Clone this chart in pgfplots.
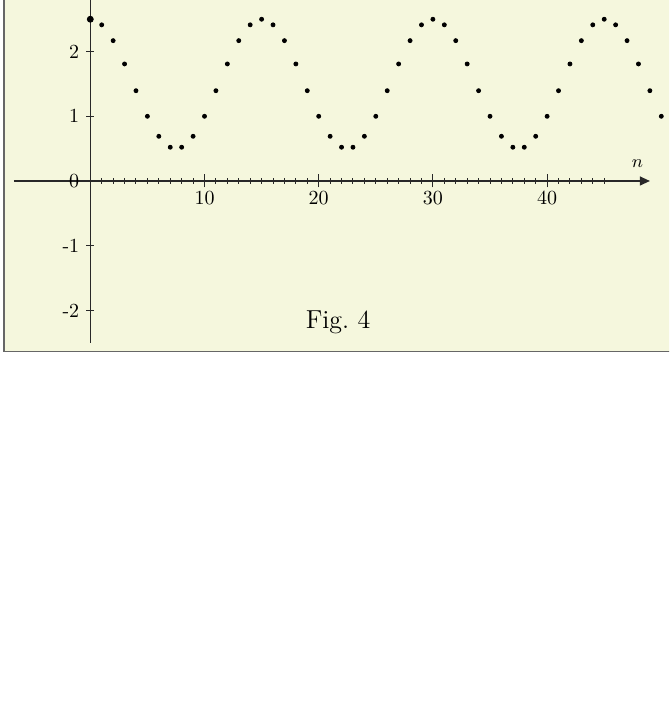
\documentclass[border=0pt]{standalone}
\usepackage{pgfplots}
\pgfplotsset{compat=1.18}
\usetikzlibrary{arrows.meta}
\definecolor{bgc}{RGB}{245,247,221}
\definecolor{axc}{RGB}{40,40,40}
\begin{document}
\begin{tikzpicture}
\clip (-45.15pt,-272.5pt) rectangle (289.35pt,90.5pt);
\fill[white] (-45.15pt,-272.5pt) rectangle (289.35pt,90.5pt);
\filldraw[fill=bgc, draw=gray!80!black, line width=0.6pt] (-43.15pt,-85.35pt) rectangle (310pt,110pt);
\begin{axis}[
  anchor=origin, at={(0,0)},
  x=5.71pt, y=32.35pt,
  xmin=-6.7, xmax=49, ymin=-2.5, ymax=3.2,
  enlargelimits=false,
  axis lines=middle,
  clip=false,
  axis line style={axc, line width=0.6pt},
  x axis line style={-{Triangle[length=5pt,width=4.5pt]}},
  y axis line style={-},
  xtick={10,20,30,40},
  minor xtick={1,2,...,45},
  ytick={-2,-1,0,1,2},
  yticklabels={{-2},{-1},{0},{1},{2}},
  hide obscured y ticks=false,
  hide obscured x ticks=false,
  tick align=center,
  major tick length=4pt,
  minor tick length=3pt,
  tick style={axc, line width=0.5pt},
  xtick style={/pgfplots/major tick length=6.5pt},
  xlabel={$n$},
  every axis x label/.style={at={(axis cs:47.9,0.27)}, anchor=center, font=\small},
  ylabel={},
]
\addplot[only marks, mark=*, mark size=1pt, black] coordinates {
(0,2.5) (1,2.4135) (2,2.1691) (3,1.8090) (4,1.3955) (5,1.0) (6,0.6910) (7,0.5219) (8,0.5219) (9,0.6910)
(10,1.0) (11,1.3955) (12,1.8090) (13,2.1691) (14,2.4135)
(15,2.5) (16,2.4135) (17,2.1691) (18,1.8090) (19,1.3955) (20,1.0) (21,0.6910) (22,0.5219) (23,0.5219) (24,0.6910)
(25,1.0) (26,1.3955) (27,1.8090) (28,2.1691) (29,2.4135)
(30,2.5) (31,2.4135) (32,2.1691) (33,1.8090) (34,1.3955) (35,1.0) (36,0.6910) (37,0.5219) (38,0.5219) (39,0.6910)
(40,1.0) (41,1.3955) (42,1.8090) (43,2.1691) (44,2.4135)
(45,2.5) (46,2.4135) (47,2.1691) (48,1.8090) (49,1.3955) (50,1.0)
};
\addplot[only marks, mark=*, mark size=1.5pt, black] coordinates {(0,2.5)};
\node at (axis cs:21.7,-2.19) {\fontsize{13}{15}\selectfont Fig.~4};
\end{axis}
\end{tikzpicture}
\end{document}
